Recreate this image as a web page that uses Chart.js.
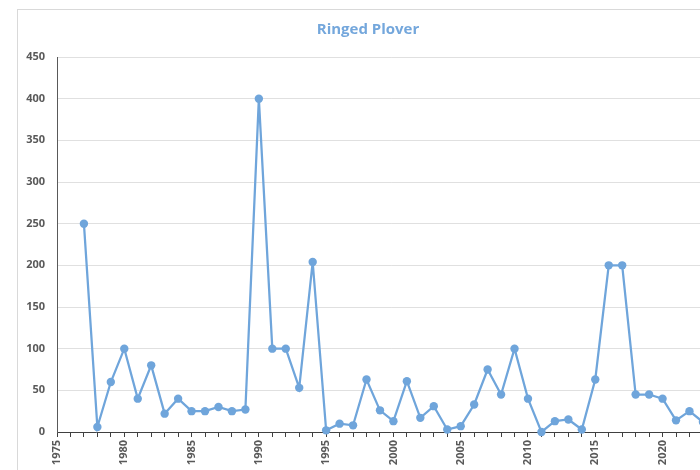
<!DOCTYPE html>
<html>
<head>
<meta charset="utf-8">
<script src="https://cdn.jsdelivr.net/npm/chart.js@4"></script>
<style>
  html, body { margin: 0; padding: 0; background: #fff; overflow: hidden; width: 700px; height: 470px; }
  .frame { position: absolute; left: 17px; top: 9px; width: 720px; height: 480px; border: 1px solid #d9d9d9; background: #fff; }
  #chart { position: absolute; left: 6px; top: 10px; display: block; }
</style>
</head>
<body>
<div class="frame"></div>
<canvas id="chart" width="724" height="470"></canvas>
<script>
const years = [1977, 1978, 1979, 1980, 1981, 1982, 1983, 1984, 1985, 1986, 1987, 1988, 1989,
  1990, 1991, 1992, 1993, 1994, 1995, 1996, 1997, 1998, 1999, 2000, 2001, 2002, 2003, 2004,
  2005, 2006, 2007, 2008, 2009, 2010, 2011, 2012, 2013, 2014, 2015, 2016, 2017, 2018, 2019,
  2020, 2021, 2022, 2023];
const counts = [250, 6, 60, 100, 40, 80, 22, 40, 25, 25, 30, 25, 27,
  400, 100, 100, 53, 204, 2, 10, 8, 63, 26, 13, 61, 17, 31, 3,
  7, 33, 75, 45, 100, 40, 0, 13, 15, 3, 63, 200, 200, 45, 45,
  40, 14, 25, 12];
const yTicks = [0, 50, 100, 150, 200, 250, 300, 350, 400, 450];

const blue = '#6fa5db';
const labelFont = { family: "'Open Sans', 'Liberation Sans', sans-serif", size: 11, weight: 'bold' };

const ctx = document.getElementById('chart');
new Chart(ctx, {
  type: 'line',
  data: {
    datasets: [{
      label: 'Ringed Plover',
      data: years.map((y, i) => ({ x: y, y: counts[i] })),
      borderColor: blue,
      backgroundColor: blue,
      borderWidth: 2.25,
      pointRadius: 4.2,
      pointHoverRadius: 4.2,
      pointBorderWidth: 0,
      tension: 0,
      clip: false
    }]
  },
  options: {
    responsive: false,
    animation: false,
    layout: { padding: 0 },
    plugins: {
      legend: { display: false },
      tooltip: { enabled: false },
      title: {
        display: true,
        text: 'Ringed Plover',
        color: '#74a7dc',
        font: { family: "'Open Sans', 'Liberation Sans', sans-serif", size: 15, weight: 'bold' },
        padding: { top: 11, bottom: 18 }
      }
    },
    scales: {
      x: {
        type: 'linear',
        min: 1975,
        max: 2024.7,
        afterFit: s => { s.height = 48; s.paddingLeft = 0; s.paddingRight = 0; },
        grid: {
          drawOnChartArea: false,
          drawTicks: true,
          tickLength: 5,
          color: '#404040'
        },
        border: { display: true, color: '#404040', width: 1 },
        ticks: {
          stepSize: 1,
          autoSkip: false,
          minRotation: 90,
          maxRotation: 90,
          padding: 3,
          color: '#595959',
          font: labelFont,
          callback: v => (v % 5 === 0 ? String(v) : '')
        }
      },
      y: {
        min: 0,
        max: 450,
        afterFit: s => { s.width = 51; },
        afterBuildTicks: s => { s.ticks = yTicks.map(v => ({ value: v })); },
        grid: { color: '#e0e0e0', drawTicks: false },
        border: { display: true, color: '#595959', width: 1 },
        ticks: {
          padding: 12,
          color: '#595959',
          font: labelFont
        }
      }
    }
  }
});
</script>
</body>
</html>
